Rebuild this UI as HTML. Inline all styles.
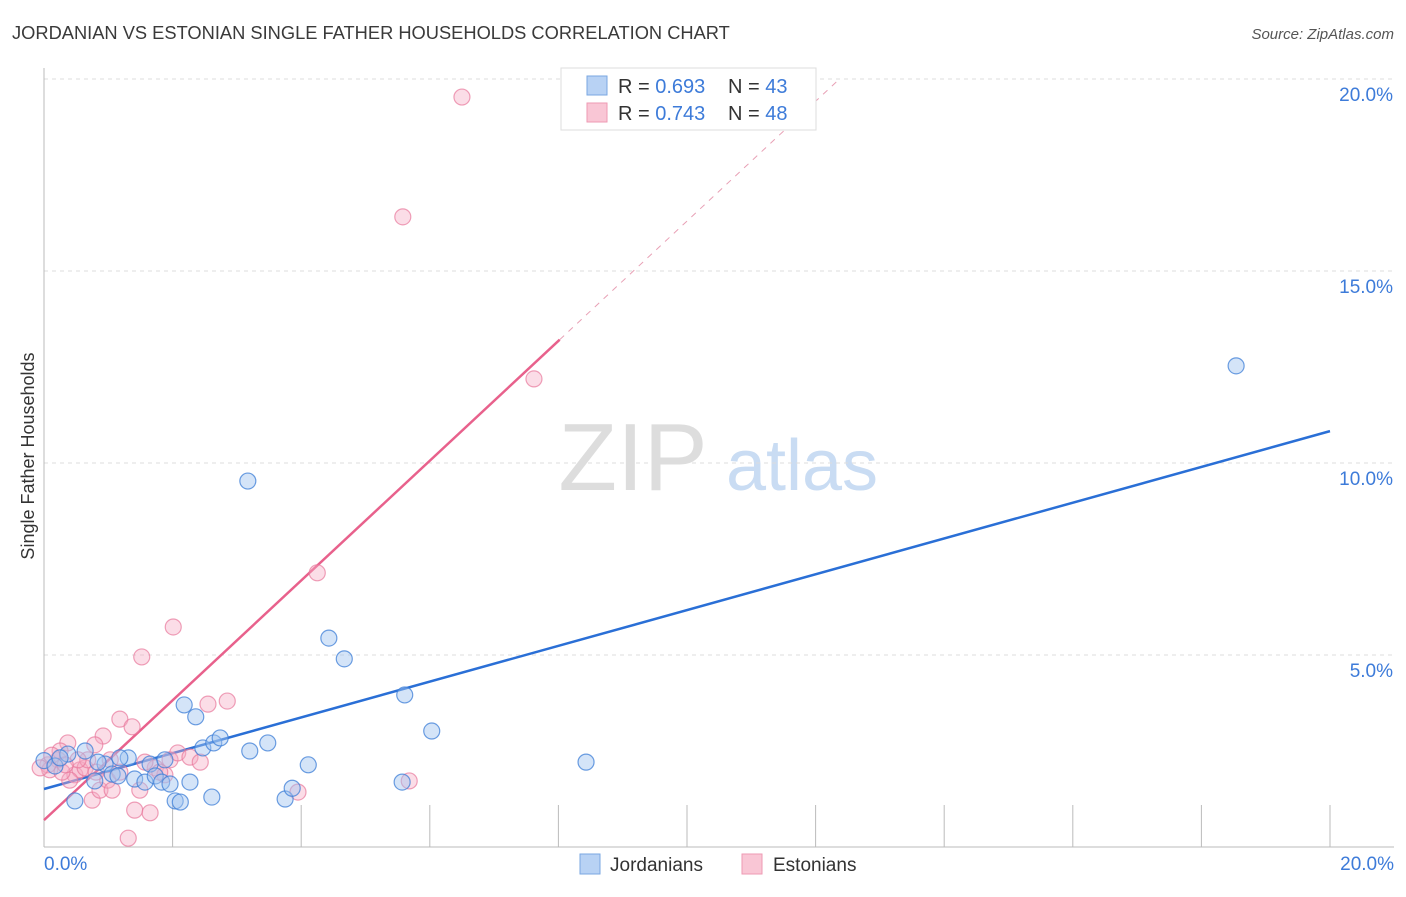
<!DOCTYPE html>
<html><head><meta charset="utf-8"><style>
body{margin:0;background:#fff;font-family:"Liberation Sans",sans-serif;}
svg text{font-family:"Liberation Sans",sans-serif;}
</style></head><body>
<svg id="chart" width="1406" height="892" xmlns="http://www.w3.org/2000/svg">
<text x="12" y="39" font-size="18.3" fill="#3a3a3a">JORDANIAN VS ESTONIAN SINGLE FATHER HOUSEHOLDS CORRELATION CHART</text>
<text x="1394" y="39" font-size="15" fill="#555" font-style="italic" text-anchor="end">Source: ZipAtlas.com</text>
<text transform="translate(34,456) rotate(-90)" font-size="18" fill="#333" text-anchor="middle">Single Father Households</text>
<g>
<text x="633" y="490" font-size="96" fill="#ddd" font-family="Liberation Serif" text-anchor="middle">ZIP</text>
<text x="802" y="490" font-size="72" fill="#c9dcf3" text-anchor="middle">atlas</text>
</g>
<g id="grid"></g>
<g id="lines"></g>
<g id="points"></g>
<g>
<rect x="561" y="68" width="255" height="62" fill="#fff" stroke="#ddd"/>
<rect x="587" y="76" width="20" height="19" fill="#b8d2f4" stroke="#7aa7e2"/>
<text x="618" y="93" font-size="20" fill="#333">R = <tspan fill="#3d7bd9">0.693</tspan></text>
<text x="728" y="93" font-size="20" fill="#333">N = <tspan fill="#3d7bd9">43</tspan></text>
<rect x="587" y="103" width="20" height="19" fill="#f9c6d5" stroke="#ee9ab3"/>
<text x="618" y="120" font-size="20" fill="#333">R = <tspan fill="#3d7bd9">0.743</tspan></text>
<text x="728" y="120" font-size="20" fill="#333">N = <tspan fill="#3d7bd9">48</tspan></text>
</g>
<g>
<rect x="580" y="854" width="20" height="20" fill="#b8d2f4" stroke="#7aa7e2"/>
<text x="610" y="871" font-size="19" fill="#333">Jordanians</text>
<rect x="742" y="854" width="20" height="20" fill="#f9c6d5" stroke="#ee9ab3"/>
<text x="773" y="871" font-size="19" fill="#333">Estonians</text>
</g>
</svg>
<script>
const blueX=[0,0.17,0.37,0.64,0.95,1.06,1.15,1.31,1.41,1.57,1.65,1.73,1.83,1.96,2.04,2.12,2.18,2.27,2.36,2.47,2.61,2.64,2.74,3.17,3.2,3.48,3.75,3.86,4.11,4.43,4.67,5.57,5.61,6.03,8.43,18.54,0.25,0.48,0.84,1.18,1.88,0.79];
const blueY=[2.25,2.11,2.42,2.50,2.16,1.90,1.85,2.32,1.77,1.69,2.16,1.85,1.69,1.64,1.20,1.17,3.70,1.69,3.39,2.58,1.30,2.71,2.84,9.53,2.50,2.71,1.25,1.53,2.14,5.44,4.90,1.69,3.96,3.02,2.21,12.53,2.32,1.20,2.21,2.32,2.27,1.72];
const pinkX=[6.5,5.58,7.62,4.25,2.01,1.52,2.85,2.55,1.18,1.37,0.92,0.37,0.79,0.22,0.06,0.48,0.56,0.75,0.87,0.99,1.18,1.41,1.65,1.31,1.96,2.08,2.27,2.43,1.73,1.88,0.25,0.4,0.64,0.09,1.03,0.28,0.68,3.95,5.68,1.49,0.12,0.53,0.81,1.57,0.33,-0.06,1.06,1.8];
const pinkY=[19.53,16.41,12.19,7.14,5.73,4.95,3.80,3.72,3.33,3.13,2.89,2.71,2.66,2.27,2.14,1.88,2.01,1.22,1.48,1.74,1.95,0.96,0.89,0.23,2.27,2.45,2.34,2.21,2.06,1.88,2.50,1.74,2.06,2.01,2.27,1.95,2.27,1.43,1.72,1.48,2.39,2.27,1.95,2.21,2.14,2.06,1.48,1.95];
const yTicks=[5,10,15,20];
const yTickLabels=["5.0%","10.0%","15.0%","20.0%"];
const xTicks=[2,4,6,8,10,12,14,16,18,20];
const blueTrend=[1.51,10.83];
const pinkTrend=[0.70,1.56];
const X=v=>44+v*64.3, Y=v=>847-v*38.4;
const NS="http://www.w3.org/2000/svg";
function mk(p,t,a){const e=document.createElementNS(NS,t);for(const k in a)e.setAttribute(k,a[k]);p.appendChild(e);return e;}
const grid=document.getElementById('grid'),lines=document.getElementById('lines'),pts=document.getElementById('points');
yTicks.forEach((v,i)=>{
 const l=mk(grid,'line',{x1:44,x2:1394,y1:Y(v),y2:Y(v),stroke:'#ddd','stroke-dasharray':'4,4'});
 
 
 const t=mk(grid,'text',{x:1393,y:Y(v)+22,'font-size':19,fill:'#3d7bd9','text-anchor':'end'});
 t.textContent=yTickLabels[i];
 
 
});
const ax=mk(grid,'line',{x1:44,x2:44,y1:68,y2:847,stroke:'#bbb'});


const bx=mk(grid,'line',{x1:44,x2:1394,y1:847,y2:847,stroke:'#bbb'});


xTicks.forEach(v=>{
 const l=mk(grid,'line',{x1:X(v),x2:X(v),y1:805,y2:847,stroke:'#bbb'});
 
 
});
const t0=mk(grid,'text',{x:44,y:870,'font-size':19,fill:'#3d7bd9'});t0.textContent='0.0%';


const t1=mk(grid,'text',{x:1394,y:870,'font-size':19,fill:'#3d7bd9','text-anchor':'end'});t1.textContent='20.0%';


function dot(x,y,f,s,n){const c=mk(pts,'circle',{cx:X(x),cy:Y(y),r:8,fill:f,stroke:s,'stroke-width':1.2});
 
 }
pinkX.forEach((x,i)=>dot(x,pinkY[i],'rgba(246,170,194,0.4)','rgba(232,120,155,0.7)','estonian-point'));
blueX.forEach((x,i)=>dot(x,blueY[i],'rgba(160,196,240,0.45)','rgba(60,125,215,0.75)','jordanian-point'));
const bl=mk(lines,'line',{x1:X(0),y1:Y(blueTrend[0]),x2:X(20),y2:Y(blueTrend[1]),stroke:'#2a6fd6','stroke-width':2.5});


const pEnd=8.02, pTop=(20-pinkTrend[0])/pinkTrend[1];
const pl=mk(lines,'line',{x1:X(0),y1:Y(pinkTrend[0]),x2:X(pEnd),y2:Y(pinkTrend[0]+pinkTrend[1]*pEnd),stroke:'#e8618c','stroke-width':2.5});


const pd=mk(lines,'line',{x1:X(pEnd),y1:Y(pinkTrend[0]+pinkTrend[1]*pEnd),x2:X(pTop),y2:Y(20),stroke:'#e8a0b5','stroke-width':1,'stroke-dasharray':'6,6'});


</script>
</body></html>
